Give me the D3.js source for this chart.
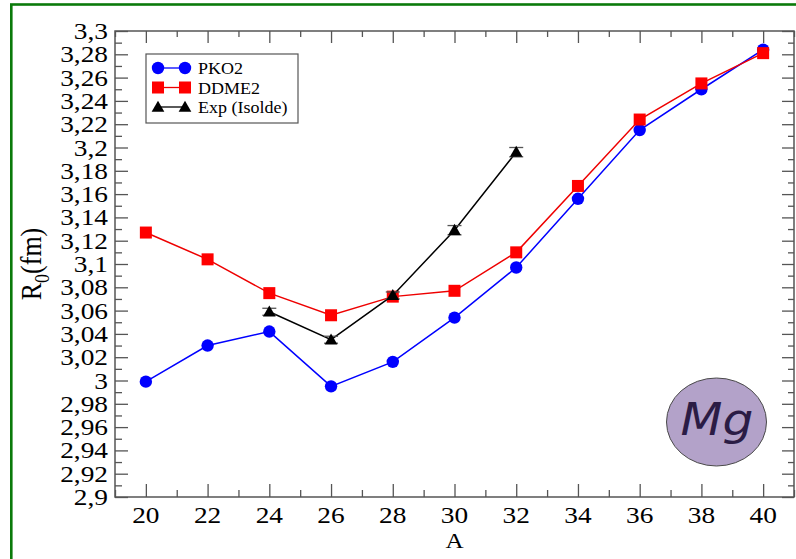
<!DOCTYPE html>
<html>
<head>
<meta charset="utf-8">
<script src="https://cdn.jsdelivr.net/npm/d3@7/dist/d3.min.js"></script>
<style>
  html, body { margin: 0; padding: 0; background: #fff; }
  svg { display: block; }
</style>
</head>
<body>
<svg id="chart" width="796" height="559"></svg>
<script>
// Mass numbers and charge radii R0 (fm) for Mg isotopes
const massNumbers = [20, 22, 24, 26, 28, 30, 32, 34, 36, 38, 40];
const pko2 = [2.999, 3.030, 3.042, 2.995, 3.016, 3.054, 3.097, 3.156, 3.215, 3.250, 3.284];
const ddme2 = [3.127, 3.104, 3.075, 3.056, 3.072, 3.077, 3.110, 3.167, 3.224, 3.255, 3.281];
const expMass = [24, 26, 28, 30, 32];
const expRadius = [3.059, 3.035, 3.073, 3.129, 3.196];
const expError = [0.003, 0.003, 0.003, 0.004, 0.004];

const xTickValues = [20, 22, 24, 26, 28, 30, 32, 34, 36, 38, 40];
const yTickValues = d3.range(0, 21).map(i => +(2.9 + i * 0.02).toFixed(2));
const yTickLabels = yTickValues.map(v => String(v).replace(".", ","));

const SERIF = "'Liberation Serif', 'DejaVu Serif', 'Times New Roman', serif";
const STRETCH = 1.14;   // glyphs are drawn slightly wide

const svg = d3.select("#chart");
const plotLeft = 115, plotRight = 794, plotTop = 31, plotBottom = 497;

const x = d3.scaleLinear().domain([19, 41]).range([plotLeft, plotRight]);
const y = d3.scaleLinear().domain([2.9, 3.3]).range([plotBottom, plotTop]);

// outer green frame
svg.append("rect")
  .attr("x", 11.3).attr("y", 4.5)
  .attr("width", 796).attr("height", 600)
  .attr("fill", "none").attr("stroke", "#0a7a0a").attr("stroke-width", 2.6);

// axes: major and minor ticks pointing inward on all four sides
const axisColor = "#555";
const xMinor = d3.range(19, 42, 1).filter(v => v % 2 === 1);
const yMinor = d3.range(0, 40).map(i => +(2.9 + 0.01 + i * 0.01).toFixed(3)).filter((v, i) => i % 2 === 0);

function styleAxis(g) {
  g.select(".domain").remove();
  g.selectAll("line").attr("stroke", axisColor).attr("stroke-width", 1.3);
  g.selectAll("text").remove();
}
const tickSpecs = [
  [d3.axisBottom(x).tickValues(xTickValues).tickSize(-13), `translate(0,${plotBottom})`],
  [d3.axisBottom(x).tickValues(xMinor).tickSize(-7), `translate(0,${plotBottom})`],
  [d3.axisTop(x).tickValues(xTickValues).tickSize(-12), `translate(0,${plotTop})`],
  [d3.axisTop(x).tickValues(xMinor).tickSize(-6), `translate(0,${plotTop})`],
  [d3.axisLeft(y).tickValues(yTickValues).tickSize(-13), `translate(${plotLeft},0)`],
  [d3.axisLeft(y).tickValues(yMinor).tickSize(-7), `translate(${plotLeft},0)`],
  [d3.axisRight(y).tickValues(yTickValues).tickSize(-12), `translate(${plotRight},0)`],
  [d3.axisRight(y).tickValues(yMinor).tickSize(-6), `translate(${plotRight},0)`]
];
tickSpecs.forEach(([axis, tr]) => {
  svg.append("g").attr("transform", tr).call(axis.tickFormat("")).call(styleAxis);
});

// text placed at (tx, ty) and widened horizontally
function wideText(parent, tx, ty, str, size, anchor, sx = STRETCH) {
  return parent.append("text")
    .attr("transform", `translate(${tx},${ty}) scale(${sx},1)`)
    .attr("text-anchor", anchor)
    .style("font-family", SERIF).style("font-size", size + "px").style("fill", "#000")
    .text(str);
}

// tick labels
const xLabels = svg.append("g");
xTickValues.forEach(v => wideText(xLabels, x(v), 523, String(v), 24, "middle"));
const yLabels = svg.append("g");
yTickValues.forEach((v, i) => wideText(yLabels, 108, y(v) + 8, yTickLabels[i], 24, "end"));

// plot frame
svg.append("rect")
  .attr("x", plotLeft).attr("y", plotTop).attr("width", plotRight - plotLeft).attr("height", plotBottom - plotTop)
  .attr("fill", "none").attr("stroke", axisColor).attr("stroke-width", 1.5);

// axis titles
wideText(svg, (plotLeft + plotRight) / 2, 548, "A", 22, "middle");
const yTitle = svg.append("text")
  .attr("transform", `translate(41,${(plotTop + plotBottom) / 2}) rotate(-90) scale(1,${STRETCH})`)
  .attr("text-anchor", "middle").style("font-family", SERIF).style("font-size", "26px");
yTitle.append("tspan").text("R");
yTitle.append("tspan").style("font-size", "18px").attr("dy", 7).text("0");
yTitle.append("tspan").attr("dy", -7).text("(fm)");

// element badge
svg.append("ellipse").attr("cx", 716.5).attr("cy", 422).attr("rx", 50).attr("ry", 44)
  .attr("fill", "#b3a2c9").attr("stroke", "#4a4a4a").attr("stroke-width", 1);
svg.append("text")
  .attr("transform", "translate(717,435) scale(1.08,1)")
  .attr("text-anchor", "middle")
  .style("font-family", "'DejaVu Sans', sans-serif").style("font-style", "italic")
  .style("font-size", "45px").style("fill", "#2b1c45").text("Mg");

// marker helpers
const tri = d3.symbol().type(d3.symbolTriangle).size(70);
function circleMarker(g, cx, cy) {
  g.append("circle").attr("cx", cx).attr("cy", cy).attr("r", 6.2).attr("fill", "#0000ff");
}
function squareMarker(g, cx, cy) {
  g.append("rect").attr("x", cx - 6).attr("y", cy - 6).attr("width", 12).attr("height", 12).attr("fill", "#ff0000");
}
function triangleMarker(g, cx, cy) {
  g.append("path").attr("d", tri).attr("transform", `translate(${cx},${cy + 1})`).attr("fill", "#000");
}

const line = d3.line().x(d => x(d[0])).y(d => y(d[1]));

// PKO2
const gP = svg.append("g");
gP.append("path").datum(massNumbers.map((a, i) => [a, pko2[i]])).attr("d", line)
  .attr("fill", "none").attr("stroke", "#0000ff").attr("stroke-width", 1.5);
massNumbers.forEach((a, i) => circleMarker(gP, x(a), y(pko2[i])));

// DDME2
const gD = svg.append("g");
gD.append("path").datum(massNumbers.map((a, i) => [a, ddme2[i]])).attr("d", line)
  .attr("fill", "none").attr("stroke", "#ee0000").attr("stroke-width", 1.5);
massNumbers.forEach((a, i) => squareMarker(gD, x(a), y(ddme2[i])));

// Experiment (ISOLDE) with error bars
const gE = svg.append("g");
gE.append("path").datum(expMass.map((a, i) => [a, expRadius[i]])).attr("d", line)
  .attr("fill", "none").attr("stroke", "#000").attr("stroke-width", 1.5);
expMass.forEach((a, i) => {
  const cx = x(a), y1 = y(expRadius[i] + expError[i]), y2 = y(expRadius[i] - expError[i]);
  gE.append("line").attr("x1", cx).attr("x2", cx).attr("y1", y1).attr("y2", y2).attr("stroke", "#333").attr("stroke-width", 1.2);
  [y1, y2].forEach(yy => gE.append("line").attr("x1", cx - 7).attr("x2", cx + 7).attr("y1", yy).attr("y2", yy)
    .attr("stroke", "#555").attr("stroke-width", 1.3));
  triangleMarker(gE, cx, y(expRadius[i]));
});

// legend
const legend = svg.append("g");
legend.append("rect").attr("x", 146).attr("y", 54).attr("width", 152).attr("height", 69)
  .attr("fill", "#fff").attr("stroke", "#555").attr("stroke-width", 1.2);
const legendItems = [
  { label: "PKO2", color: "#0000ff", marker: circleMarker },
  { label: "DDME2", color: "#ee0000", marker: squareMarker },
  { label: "Exp (Isolde)", color: "#000", marker: triangleMarker }
];
legendItems.forEach((item, i) => {
  const ly = 68 + i * 19.5;
  legend.append("line").attr("x1", 158).attr("x2", 185).attr("y1", ly).attr("y2", ly)
    .attr("stroke", item.color).attr("stroke-width", 1.3);
  item.marker(legend, 158, ly);
  item.marker(legend, 185, ly);
  wideText(legend, 198, ly + 6, item.label, 17, "start", 1.06);
});
</script>
</body>
</html>
